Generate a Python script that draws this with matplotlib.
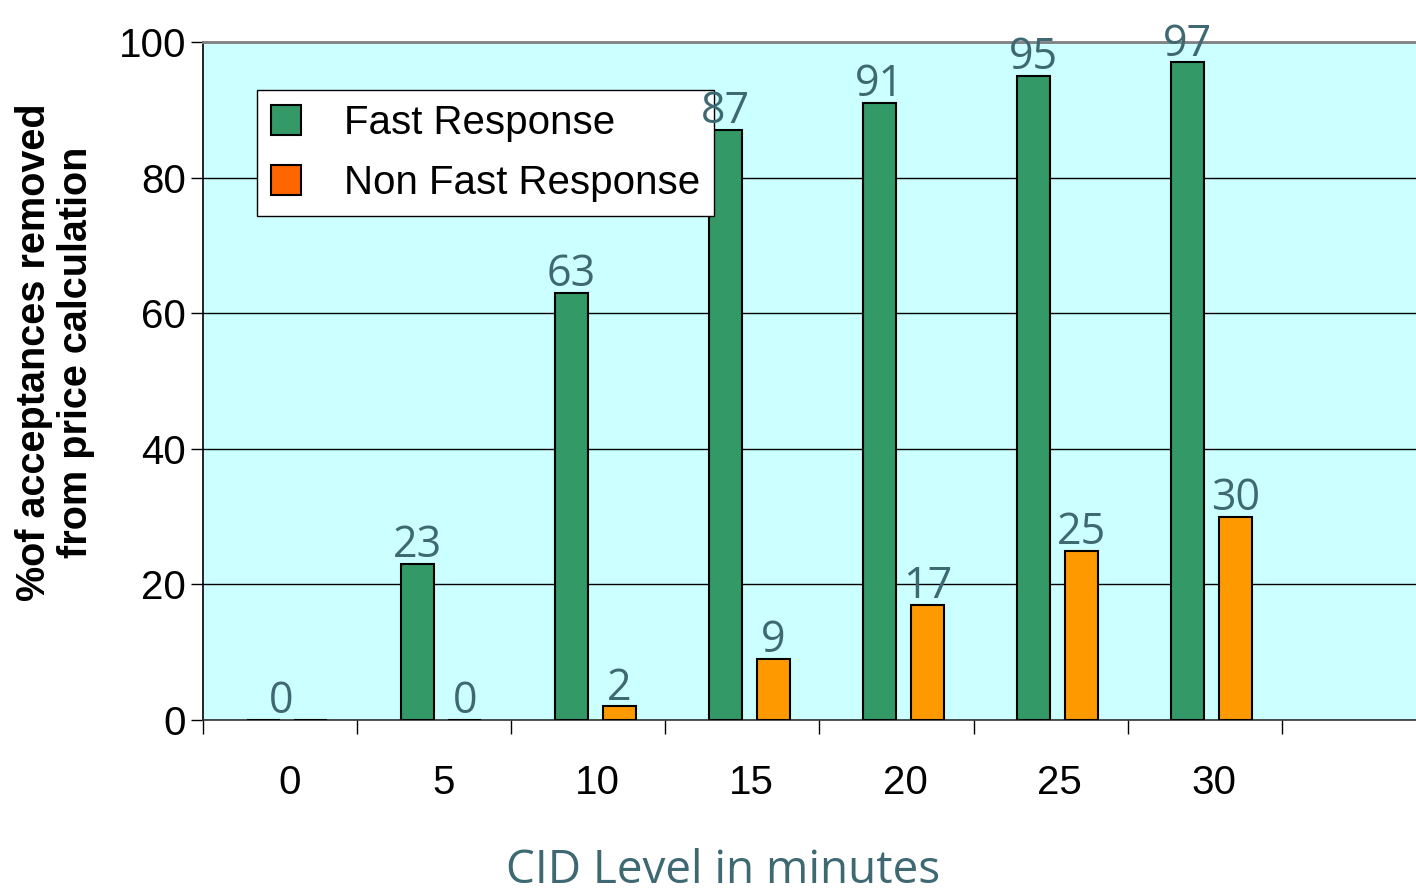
import matplotlib.pyplot as plt
import numpy as np
from matplotlib.patches import Patch

# CID level categories (minutes)
cid_levels = ["0", "5", "10", "15", "20", "25", "30"]
fast_response = [0, 23, 63, 87, 91, 95, 97]
non_fast_response = [0, 0, 2, 9, 17, 25, 30]

green = "#339966"
orange = "#FF9900"
legend_orange = "#FF6600"
label_color = "#3E6972"

fig = plt.figure(figsize=(14.16, 8.96), dpi=100)
ax = fig.add_axes([203 / 1416, 1 - 720 / 896, 1213 / 1416, 678 / 896])
ax.set_facecolor("#CCFFFF")

x = np.arange(len(cid_levels)) + 0.5
bar_w = 0.214
off_fast = -0.11
off_non = 0.20

ax.bar(x + off_fast, fast_response, bar_w, color=green, edgecolor="black",
       linewidth=1.5, zorder=3)
ax.bar(x + off_non, non_fast_response, bar_w, color=orange, edgecolor="black",
       linewidth=1.5, zorder=3)

# value labels (drawn above the legend box)
lab_font = dict(family="Open Sans", fontsize=31, color=label_color,
                ha="center", va="baseline", zorder=6)
for i, (f, n) in enumerate(zip(fast_response, non_fast_response)):
    if i == 0:
        ax.text(x[i] + 0.01, f + 1.0, f"{f}", **lab_font)
        continue
    ax.text(x[i] + off_fast, f + 1.0, f"{f}", **lab_font)
    ax.text(x[i] + off_non, n + 1.0, f"{n}", **lab_font)

ax.set_xlim(0, 1213 / 154.1)
ax.set_ylim(0, 100)

ax.set_yticks([0, 20, 40, 60, 80, 100])
ax.tick_params(axis="y", labelsize=29, length=9, width=1, pad=3)
ax.set_xticks(np.arange(0, 8))
ax.set_xticklabels([])
ax.tick_params(axis="x", length=10, width=1, direction="out")
for lab in ax.get_yticklabels():
    lab.set_family("Liberation Sans")

for xi, name in zip(x, cid_levels):
    ax.text(xi + 0.06, -9.3, name, ha="center", va="center", fontsize=29,
            family="Liberation Sans", clip_on=False)

ax.grid(axis="y", color="black", linewidth=1, zorder=1)
ax.spines["top"].set_color("#808080")
ax.spines["top"].set_linewidth(2)
ax.spines["right"].set_visible(False)
ax.spines["left"].set_linewidth(1.2)
ax.spines["bottom"].set_linewidth(1.2)
ax.spines["bottom"].set_color("#333333")

# legend
handles = [Patch(facecolor=green, edgecolor="black", linewidth=1.5),
           Patch(facecolor=legend_orange, edgecolor="black", linewidth=1.5)]
leg = ax.legend(handles, ["Fast Response", "Non Fast Response"],
                loc="upper left", bbox_to_anchor=((257 - 203) / 1213, (720 - 90) / 678),
                prop=dict(family="Liberation Sans", size=29),
                fancybox=False, framealpha=1, edgecolor="black",
                handlelength=0.75, handleheight=0.75, handletextpad=1.05,
                borderpad=0.35, labelspacing=0.55, borderaxespad=0)
leg.get_frame().set_linewidth(1)
leg.set_zorder(5)

fig.text(55 / 1416, 1 - 352 / 896, "%of acceptances removed\nfrom price calculation",
         rotation=90, ha="center", va="center", fontsize=28.5, fontweight="bold",
         family="Liberation Sans", linespacing=1.12)
fig.text(723 / 1416, 1 - 894 / 896, "CID Level in minutes", ha="center",
         va="bottom", fontsize=33, family="Open Sans", color=label_color)

fig.savefig("out.png", dpi=100)
